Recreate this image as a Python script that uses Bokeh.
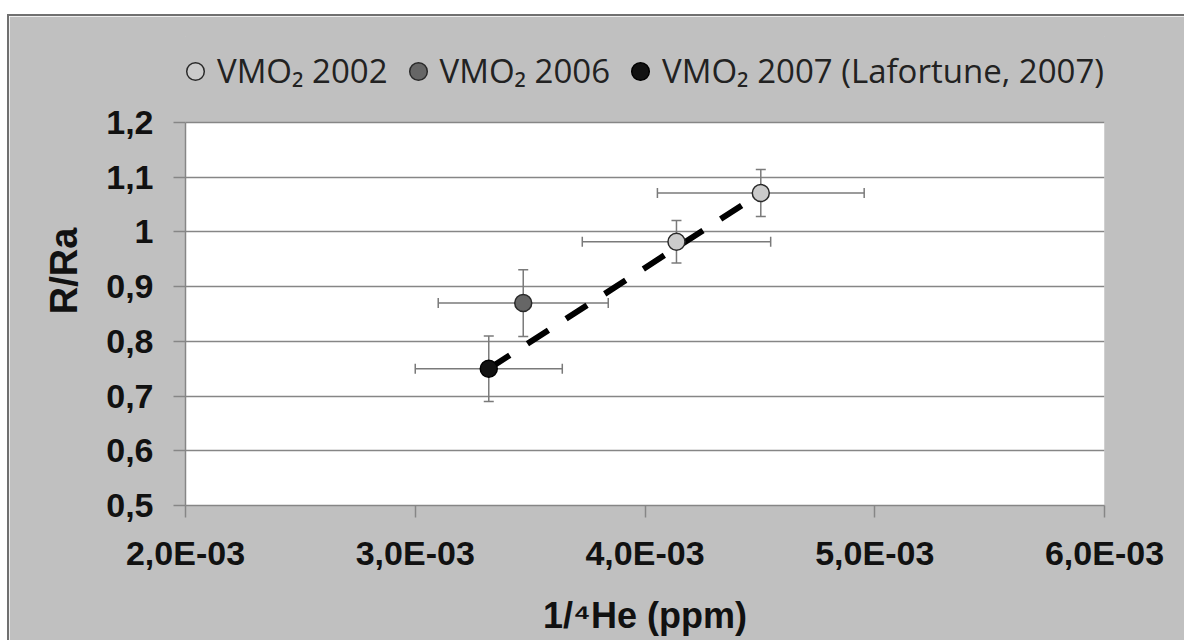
from bokeh.plotting import figure
from bokeh.models import (ColumnDataSource, Range1d, FixedTicker, Whisker, TeeHead,
                          Legend, LegendItem, CustomJSTickFormatter, BoxAnnotation)
from bokeh.embed import file_html
from bokeh.resources import INLINE

# ---- data ----
series_names = ["VMO\u2082 2002", "VMO\u2082 2006", "VMO\u2082 2007 (Lafortune, 2007)"]
x_2002 = [4.137e-3, 4.504e-3]
y_2002 = [0.982, 1.071]
xerr_2002 = [0.41e-3, 0.45e-3]
yerr_2002 = [0.039, 0.043]
x_2006 = [3.47e-3]
y_2006 = [0.870]
xerr_2006 = [0.37e-3]
yerr_2006 = [0.061]
x_2007 = [3.32e-3]
y_2007 = [0.750]
xerr_2007 = [0.32e-3]
yerr_2007 = [0.060]
trend_x = [3.32e-3, 4.504e-3]
trend_y = [0.750, 1.071]
x_ticks = [0.002, 0.003, 0.004, 0.005, 0.006]
x_tick_labels = ["2,0E-03", "3,0E-03", "4,0E-03", "5,0E-03", "6,0E-03"]
y_ticks = [0.5, 0.6, 0.7, 0.8, 0.9, 1.0, 1.1, 1.2]
y_tick_labels = ["0,5", "0,6", "0,7", "0,8", "0,9", "1", "1,1", "1,2"]
x_title = "1/\u2074He (ppm)"
y_title = "R/Ra"

GRAY_BG = "#c0c0c0"
LINE_GRAY = "#868686"

# layout (pixels)
W, H = 1177, 626
B_LEFT, B_RIGHT, B_TOP, B_BOTTOM = 176, 82, 20, 137
PLOT_PX = 383            # height of the white plot area
FRAME_PX = H - B_TOP - B_BOTTOM
X0, X1 = x_ticks[0], x_ticks[-1]
Y0, Y1 = y_ticks[0], y_ticks[-1]
y_top = Y0 + (Y1 - Y0) * FRAME_PX / PLOT_PX   # frame extends above plot area to hold legend

p = figure(width=W, height=H, output_backend="svg", toolbar_location=None,
           x_range=Range1d(X0, X1), y_range=Range1d(Y0, y_top),
           min_border_left=B_LEFT, min_border_right=B_RIGHT, min_border_top=B_TOP,
           min_border_bottom=B_BOTTOM)
p.styles = {"margin-left": "7px", "margin-top": "14px",
            "border-top": "2px solid #707070", "border-left": "2px solid #707070"}
p.background_fill_color = GRAY_BG
p.border_fill_color = GRAY_BG
p.outline_line_color = GRAY_BG
p.outline_line_width = 1

# white plot area
p.add_layout(BoxAnnotation(left=X0, right=X1, bottom=Y0, top=Y1, fill_color="white",
                           fill_alpha=1, line_color=None, level="image"))

# grid
p.xgrid.visible = False
p.ygrid.ticker = FixedTicker(ticks=y_ticks)
p.ygrid.grid_line_color = LINE_GRAY
p.ygrid.grid_line_width = 1.5
p.ygrid.bounds = (Y0, Y1 - 0.05)

fmt_code = """
let best = 0;
for (let i = 0; i < tvals.length; i++) {
  if (Math.abs(tvals[i] - tick) < Math.abs(tvals[best] - tick)) best = i;
}
return tlabels[best];
"""
p.xaxis.ticker = FixedTicker(ticks=x_ticks)
p.yaxis.ticker = FixedTicker(ticks=y_ticks)
p.yaxis.bounds = (Y0, Y1)
p.xaxis.formatter = CustomJSTickFormatter(args=dict(tvals=x_ticks, tlabels=x_tick_labels), code=fmt_code)
p.yaxis.formatter = CustomJSTickFormatter(args=dict(tvals=y_ticks, tlabels=y_tick_labels), code=fmt_code)

for ax in (p.xaxis, p.yaxis):
    ax.axis_line_color = LINE_GRAY
    ax.axis_line_width = 1.5
    ax.major_tick_line_color = LINE_GRAY
    ax.major_tick_line_width = 1.5
    ax.major_tick_out = 12
    ax.major_tick_in = 0
    ax.minor_tick_line_color = None
    ax.major_label_text_font = "Liberation Sans"
    ax.major_label_text_font_style = "bold"
    ax.major_label_text_font_size = "34px"
    ax.major_label_text_color = "#111111"
    ax.axis_label_text_font = "Liberation Sans"
    ax.axis_label_text_font_style = "bold"
    ax.axis_label_text_color = "#111111"

p.xaxis.major_label_standoff = 16
p.yaxis.major_label_standoff = 20
p.xaxis.axis_label = x_title
p.yaxis.axis_label = y_title
p.xaxis.axis_label_text_font_size = "36px"
p.yaxis.axis_label_text_font_size = "38px"
p.xaxis.axis_label_standoff = 20
p.yaxis.axis_label_standoff = 18

# error bars
all_x = x_2002 + x_2006 + x_2007
all_y = y_2002 + y_2006 + y_2007
all_xerr = xerr_2002 + xerr_2006 + xerr_2007
all_yerr = yerr_2002 + yerr_2006 + yerr_2007
err_src = ColumnDataSource(dict(
    x=all_x, y=all_y,
    xl=[a - b for a, b in zip(all_x, all_xerr)],
    xu=[a + b for a, b in zip(all_x, all_xerr)],
    yl=[a - b for a, b in zip(all_y, all_yerr)],
    yu=[a + b for a, b in zip(all_y, all_yerr)],
))
for dim, base, lo, up in (("width", "y", "xl", "xu"), ("height", "x", "yl", "yu")):
    w = Whisker(source=err_src, base=base, lower=lo, upper=up, dimension=dim,
                line_color="#7a7a7a", line_width=1.5, level="underlay",
                upper_head=TeeHead(size=10, line_color="#7a7a7a", line_width=1.5),
                lower_head=TeeHead(size=10, line_color="#7a7a7a", line_width=1.5))
    p.add_layout(w)

# trend line
p.line(trend_x, trend_y, line_color="black", line_width=6, line_dash="25 21")

# markers
r1 = p.scatter(x_2002, y_2002, size=17, fill_color="#cbcbcb", line_color="#2a2a2a", line_width=1.5)
r2 = p.scatter(x_2006, y_2006, size=17, fill_color="#666666", line_color="#2a2a2a", line_width=1.5)
r3 = p.scatter(x_2007, y_2007, size=17, fill_color="#111111", line_color="#000000", line_width=1.5)

legend = Legend(items=[LegendItem(label=series_names[0], renderers=[r1]),
                       LegendItem(label=series_names[1], renderers=[r2]),
                       LegendItem(label=series_names[2], renderers=[r3])],
                orientation="horizontal", location=(-12, PLOT_PX + 29),
                glyph_width=44, glyph_height=44, label_standoff=-5, spacing=8,
                padding=0, margin=0, border_line_color=None,
                background_fill_alpha=0, label_text_font="Open Sans",
                label_text_font_size="33px", label_text_color="#222222")
p.add_layout(legend)

open("out.html", "w").write(file_html(p, INLINE))
